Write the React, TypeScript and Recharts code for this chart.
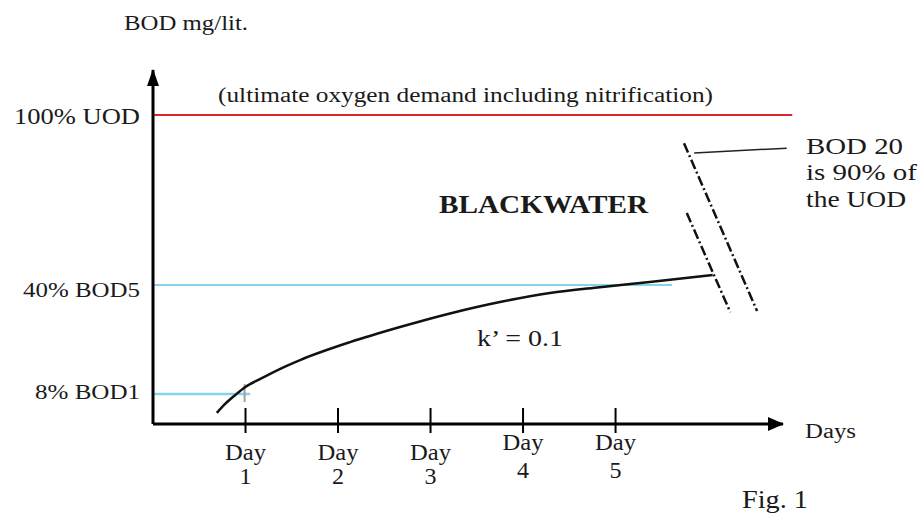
import React from 'react';
import { ComposedChart, Line, XAxis, YAxis, ReferenceLine, ReferenceDot } from 'recharts';

// ---- data (x in days, y in % of chart scale where 100 = UOD) ----
const curveDays = [0.69, 0.78, 0.89, 0.99, 1.16, 1.37, 1.59, 2.13, 2.67, 3.21, 3.75, 4.29, 4.83, 5.37, 6.05];
const curveBod = [3.6, 6.5, 9.4, 11.8, 14.6, 17.8, 20.7, 26.5, 31.4, 35.8, 39.5, 42.4, 44.3, 46.0, 48.2];

const dayTicks = [1, 2, 3, 4, 5];
const dayTickLabels = ['1', '2', '3', '4', '5'];

const yTickValues = [9.7, 45, 100];
const yTickLabels = ['8% BOD1', '40% BOD5', '100% UOD'];

const uodLevel = 100;
const uodEndDay = 6.91;
const bod5Level = 45;
const bod5EndDay = 5.61;
const bod1Level = 9.7;
const bod1EndDay = 1.05;

const breakLineA = [{ x: 5.77, y: 68.3 }, { x: 6.24, y: 36.2 }];
const breakLineB = [{ x: 5.74, y: 90.9 }, { x: 6.53, y: 36.6 }];
const leaderLine = [{ x: 5.85, y: 87.7 }, { x: 6.85, y: 89.3 }];
const day1Marker = [{ x: 0.99, y: 7.1 }, { x: 0.99, y: 12.9 }];

const xDomain = [0, 6.81];
const yDomain = [0, 114.6];

const chartData = curveDays.map((d, i) => ({ day: d, bod: curveBod[i] }));

const FONT = '"Liberation Serif", "Times New Roman", serif';
const INK = '#1a1a1a';

const T = ({ x, y, w, size, anchor = 'start', weight = 'normal', children }: any) => (
  <text
    x={x}
    y={y}
    fontFamily={FONT}
    fontSize={size}
    fontWeight={weight}
    fill={INK}
    textAnchor={anchor}
    textLength={w}
    lengthAdjust="spacingAndGlyphs"
  >
    {children}
  </text>
);

const XTick = (props: any) => {
  const { x, y, payload, index } = props;
  const raised = index >= 3;
  const dy1 = raised ? 26 : 36;
  const dy2 = raised ? 54 : 60;
  return (
    <g>
      <line x1={x} x2={x} y1={y - 16} y2={y + 9} stroke="#000" strokeWidth={2} />
      <T x={x} y={y + dy1} w={41} size={24} anchor="middle">Day</T>
      <T x={x} y={y + dy2} size={24} anchor="middle">{dayTickLabels[dayTicks.indexOf(payload.value)]}</T>
    </g>
  );
};

const yStyles = [
  { size: 20, w: 105, dy: 5 },
  { size: 22, w: 117, dy: 12 },
  { size: 24, w: 126, dy: 9 },
];

const YTick = (props: any) => {
  const { x, y, payload } = props;
  const i = yTickValues.indexOf(payload.value);
  const s = yStyles[i] || yStyles[0];
  return (
    <T x={x} y={y + s.dy} w={s.w} size={s.size} anchor="end">
      {yTickLabels[i]}
    </T>
  );
};

const ArrowRight = (props: any) => {
  const { cx, cy } = props;
  return <polygon points={`${cx + 1},${cy} ${cx - 15},${cy - 7} ${cx - 15},${cy + 7}`} fill="#000" />;
};
const ArrowUp = (props: any) => {
  const { cx, cy } = props;
  return <polygon points={`${cx},${cy - 1} ${cx - 6},${cy + 16} ${cx + 6},${cy + 16}`} fill="#000" />;
};

export default function App() {
  return (
    <div style={{ position: 'absolute', left: 0, top: 0, width: 920, height: 516, background: '#fff' }}>
      <ComposedChart
        width={920}
        height={516}
        data={chartData}
        margin={{ top: 70, right: 137, bottom: 0, left: 0 }}
      >
        <XAxis
          type="number"
          dataKey="day"
          domain={xDomain}
          ticks={dayTicks}
          interval={0}
          height={92}
          axisLine={{ stroke: '#000', strokeWidth: 3 }}
          tickLine={false}
          tickSize={0}
          tickMargin={0}
          tick={<XTick />}
          allowDataOverflow
        />
        <YAxis
          type="number"
          domain={yDomain}
          ticks={yTickValues}
          interval={0}
          width={153}
          axisLine={{ stroke: '#000', strokeWidth: 3 }}
          tickLine={false}
          tickSize={0}
          tickMargin={13}
          tick={<YTick />}
          allowDataOverflow
        />
        <ReferenceLine
          segment={[{ x: 0, y: uodLevel }, { x: uodEndDay, y: uodLevel }]}
          stroke="#d9262b"
          strokeWidth={2}
          ifOverflow="visible"
        />
        <ReferenceLine
          segment={[{ x: 0, y: bod5Level }, { x: bod5EndDay, y: bod5Level }]}
          stroke="#86d3ec"
          strokeWidth={2}
          ifOverflow="visible"
        />
        <ReferenceLine
          segment={[{ x: 0, y: bod1Level }, { x: bod1EndDay, y: bod1Level }]}
          stroke="#86d3ec"
          strokeWidth={2.5}
          ifOverflow="visible"
        />
        <ReferenceLine segment={day1Marker} stroke="#a0a0a0" strokeWidth={2} ifOverflow="visible" />
        <Line
          type="monotone"
          dataKey="bod"
          stroke="#111"
          strokeWidth={2.5}
          dot={false}
          isAnimationActive={false}
        />
        <ReferenceLine segment={breakLineA} stroke="#111" strokeWidth={2.5} strokeDasharray="10 3 2 3" ifOverflow="visible" />
        <ReferenceLine segment={breakLineB} stroke="#111" strokeWidth={2.5} strokeDasharray="10 3 2 3" ifOverflow="visible" />
        <ReferenceLine segment={leaderLine} stroke="#222" strokeWidth={1.5} ifOverflow="visible" />
        <ReferenceDot x={xDomain[1]} y={0} r={1} shape={<ArrowRight />} ifOverflow="visible" />
        <ReferenceDot x={0} y={yDomain[1]} r={1} shape={<ArrowUp />} ifOverflow="visible" />
        <g>
          <T x={124} y={30} w={124} size={20}>BOD mg/lit.</T>
          <T x={218} y={102} w={495} size={20}>(ultimate oxygen demand including nitrification)</T>
          <T x={439} y={213} w={209} size={26} weight="bold">BLACKWATER</T>
          <T x={477} y={346} w={86} size={23}>k’ = 0.1</T>
          <T x={806} y={154} w={97} size={24}>BOD 20</T>
          <T x={806} y={180} w={111} size={24}>is 90% of</T>
          <T x={806} y={207} w={100} size={24}>the UOD</T>
          <T x={805} y={438} w={51} size={20}>Days</T>
          <T x={742} y={508} w={66} size={26}>Fig. 1</T>
        </g>
      </ComposedChart>
    </div>
  );
}
